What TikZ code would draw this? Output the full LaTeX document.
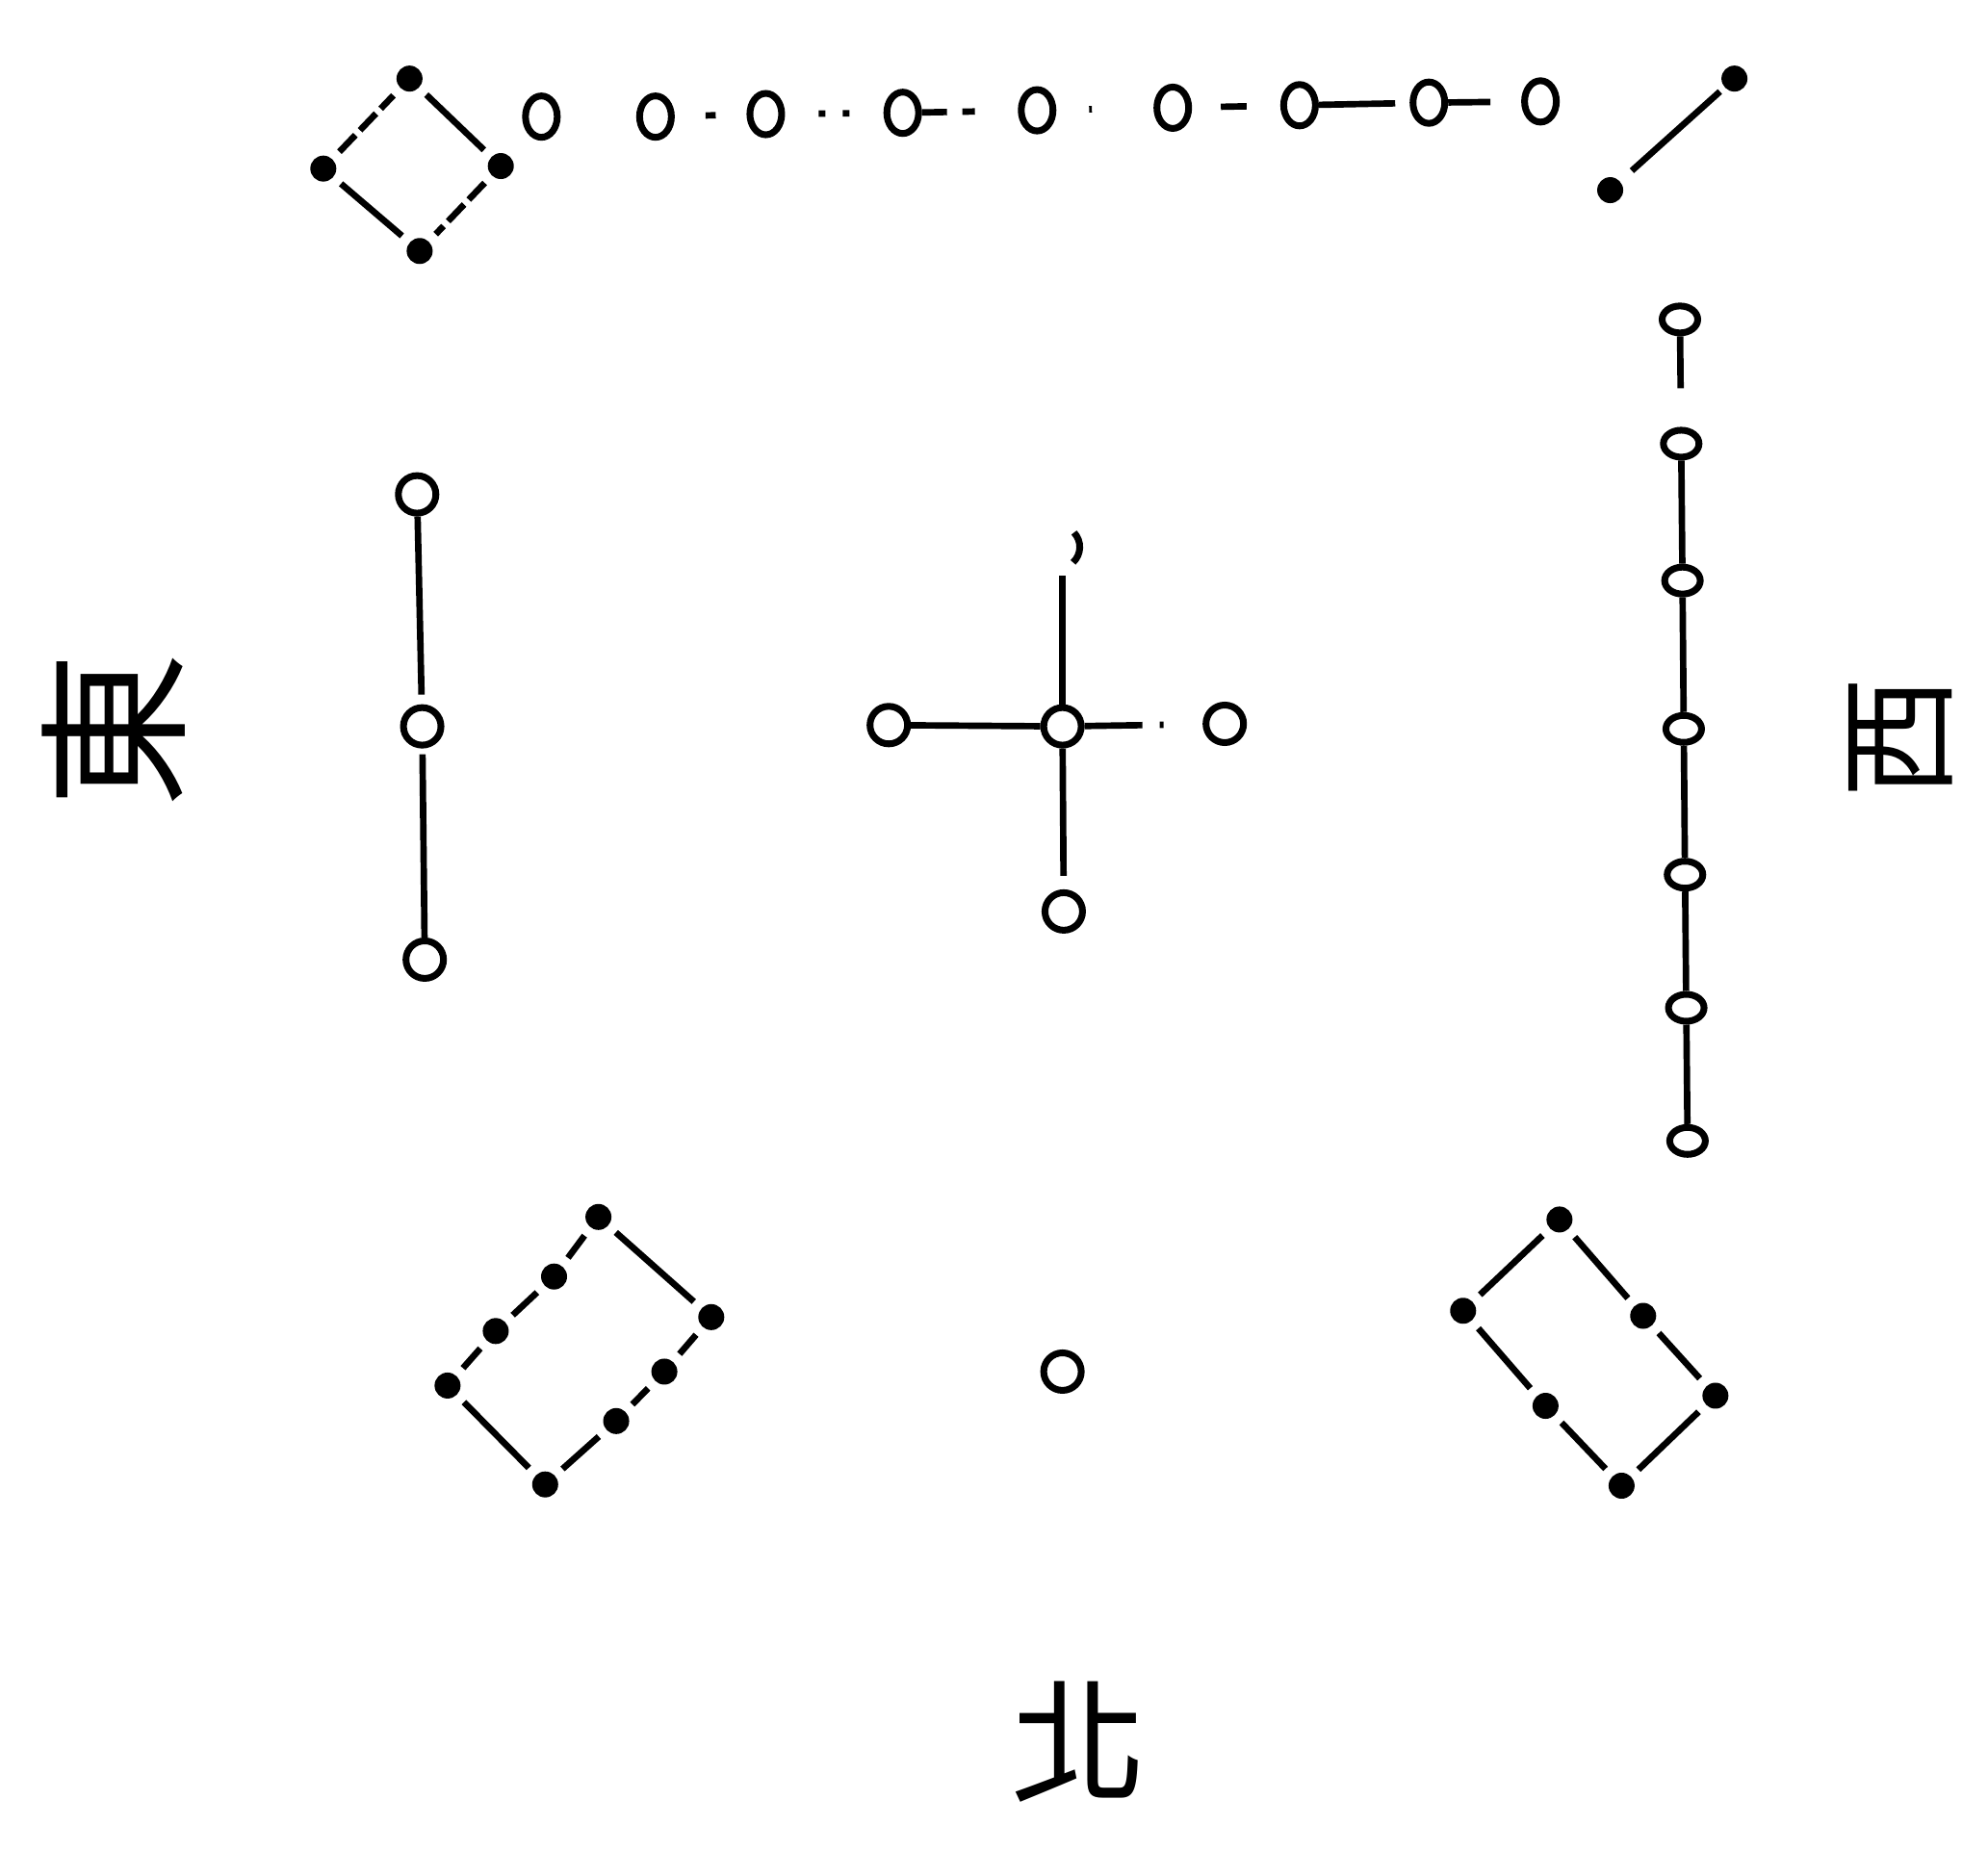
\documentclass[tikz,border=0pt]{standalone}
\usepackage{fontspec}
\newfontfamily\cjk{Noto Sans CJK TC}
\usetikzlibrary{shapes.geometric}

\tikzset{
  yang/.style={circle,draw,line width=2pt,inner sep=0pt,minimum size=3.9mm},
  yangtall/.style={ellipse,draw,line width=2pt,inner sep=0pt,minimum width=3.3mm,minimum height=4.3mm},
  yangwide/.style={ellipse,draw,line width=2pt,inner sep=0pt,minimum width=3.7mm,minimum height=2.8mm},
  yin/.style={circle,fill,inner sep=0pt,minimum size=2.7mm},
  link/.style={line width=1.9pt},
  gaplink/.style={line width=1.9pt,shorten <=1mm,shorten >=1mm},
  dirlabel/.style={font=\cjk\fontsize{40}{40}\selectfont,inner sep=0pt}
}

\begin{document}
\begin{tikzpicture}[x=1.317mm,y=-1.317mm]
\useasboundingbox (0,0) rectangle (156.8,146.0);

% four (top left)
\node[yin] (d1) at (32.3,6.2) {};
\node[yin] (d2) at (39.5,13.1) {};
\node[yin] (d3) at (33.1,19.8) {};
\node[yin] (d4) at (25.5,13.3) {};
\draw[gaplink] (d1)--(d2);
\draw[gaplink,dash pattern=on 2.4mm off 0.7mm] (d2)--(d3);
\draw[gaplink] (d3)--(d4);
\draw[gaplink,dash pattern=on 2.4mm off 0.7mm] (d4)--(d1);

% nine (top)
\node[yangtall] (t1) at (42.7,9.2) {};
\node[yangtall] (t2) at (51.7,9.2) {};
\node[yangtall] (t3) at (60.4,9.0) {};
\node[yangtall] (t4) at (71.2,8.9) {};
\node[yangtall] (t5) at (81.8,8.7) {};
\node[yangtall] (t6) at (92.5,8.5) {};
\node[yangtall] (t7) at (102.5,8.3) {};
\node[yangtall] (t8) at (112.7,8.1) {};
\node[yangtall] (t9) at (121.5,8.0) {};
\draw[link,shorten <=3.2mm,shorten >=3.2mm] (t2)--(t3);
\draw[link,dash pattern=on 0.7mm off 1.8mm,shorten <=3.5mm,shorten >=3.0mm] (t3)--(t4);
\draw[link,dash pattern=on 2.6mm off 1.6mm on 1.3mm off 20mm] (t4)--(t5);
\draw[link,shorten <=3.4mm,shorten >=6.4mm] (t5)--(t6);
\draw[link,shorten <=3.0mm,shorten >=3.5mm] (t6)--(t7);
\draw[link,shorten >=1.5mm] (t7)--(t8);
\draw[link,shorten >=3.2mm] (t8)--(t9);

% two (top right)
\node[yin] (e1) at (127.0,15.0) {};
\node[yin] (e2) at (136.8,6.2) {};
\draw[link,shorten <=1.6mm,shorten >=0.6mm] (e1)--(e2);

% three (left)
\node[yang] (l1) at (32.9,39.0) {};
\node[yang] (l2) at (33.3,57.3) {};
\node[yang] (l3) at (33.5,75.7) {};
\draw[link,shorten >=1mm] (l1)--(l2);
\draw[link,shorten <=0.6mm] (l2)--(l3);

% five (centre)
\node[yang] (c0) at (83.8,57.3) {};
\node[yang] (c1) at (70.1,57.2) {};
\node[yang] (c2) at (96.6,57.1) {};
\node[yang] (c3) at (83.9,71.9) {};
\coordinate (c4) at (83.8,43.0);
\draw[line width=2pt] ([xshift=1.2mm,yshift=1.3mm]c4) to[bend left=45] ([xshift=1.1mm,yshift=-1.8mm]c4);
\draw[link] (c1)--(c0);
\draw[link,dash pattern=on 6mm off 1.8mm on 0.4mm off 20mm] (c0)--(c2);
\draw[link,shorten >=1.4mm] (c0)--(c3);
\draw[link,shorten >=3.2mm] (c0)--(c4);

% seven (right)
\node[yangwide] (r1) at (132.5,25.2) {};
\node[yangwide] (r2) at (132.6,35.0) {};
\node[yangwide] (r3) at (132.7,45.8) {};
\node[yangwide] (r4) at (132.8,57.5) {};
\node[yangwide] (r5) at (132.9,69.0) {};
\node[yangwide] (r6) at (133.0,79.5) {};
\node[yangwide] (r7) at (133.1,90.0) {};
\draw[link,shorten >=4mm] (r1)--(r2);
\draw[link] (r2)--(r3);
\draw[link] (r3)--(r4);
\draw[link] (r4)--(r5);
\draw[link] (r5)--(r6);
\draw[link] (r6)--(r7);

% eight (bottom left)
\node[yin] (g1) at (47.2,96.0) {};
\node[yin] (g2) at (56.1,103.9) {};
\node[yin] (g3) at (43.0,117.1) {};
\node[yin] (g4) at (35.3,109.3) {};
\node[yin] (g5) at (43.7,100.7) {};
\node[yin] (g6) at (39.1,105.0) {};
\node[yin] (g7) at (52.4,108.2) {};
\node[yin] (g8) at (48.6,112.1) {};
\draw[gaplink] (g1)--(g2);
\draw[gaplink] (g4)--(g3);
\draw[gaplink] (g4)--(g6);
\draw[gaplink] (g6)--(g5);
\draw[gaplink] (g5)--(g1);
\draw[gaplink] (g3)--(g8);
\draw[gaplink] (g8)--(g7);
\draw[gaplink] (g7)--(g2);

% one (bottom)
\node[yang] (b0) at (83.8,108.2) {};

% six (bottom right)
\node[yin] (s1) at (123.0,96.2) {};
\node[yin] (s2) at (135.3,110.1) {};
\node[yin] (s3) at (127.9,117.2) {};
\node[yin] (s4) at (115.4,103.4) {};
\node[yin] (s5) at (129.6,103.8) {};
\node[yin] (s6) at (121.9,110.9) {};
\draw[gaplink] (s1)--(s4);
\draw[gaplink] (s1)--(s5);
\draw[gaplink] (s5)--(s2);
\draw[gaplink] (s4)--(s6);
\draw[gaplink] (s6)--(s3);
\draw[gaplink] (s3)--(s2);

% directions
\node[dirlabel,rotate=90,font=\cjk\fontsize{46}{46}\selectfont] (east) at (9.0,57.6) {東};
\node[dirlabel,rotate=90,font=\cjk\fontsize{36}{36}\selectfont] (west) at (149.9,58.2) {西};
\node[dirlabel,font=\cjk\fontsize{40}{40}\selectfont] (north) at (85.1,137.4) {北};
\end{tikzpicture}
\end{document}
